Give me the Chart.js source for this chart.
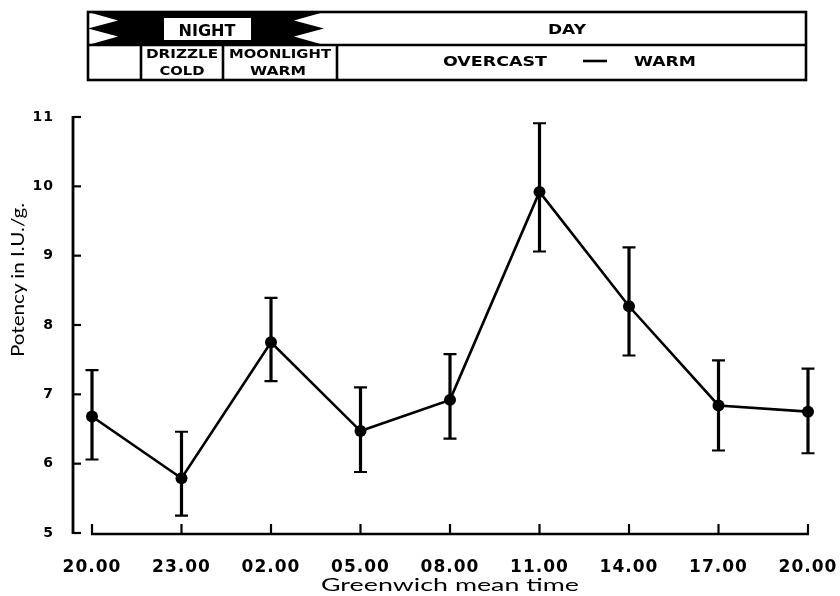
<!DOCTYPE html>
<html>
<head>
<meta charset="utf-8">
<script src="https://cdn.jsdelivr.net/npm/chart.js@4"></script>
<style>
html,body{margin:0;padding:0;background:#fff;}
#wrap{position:relative;width:840px;height:596px;overflow:hidden;}
#c{position:absolute;left:0;top:0;}
#banner{position:absolute;left:0;top:0;pointer-events:none;}
#banner text{font-family:"DejaVu Sans",Lato,sans-serif;font-weight:bold;fill:#000;}
#banner text.plain{font-family:Lato,"DejaVu Sans",sans-serif;font-weight:normal;}
</style>
</head>
<body>
<div id="wrap">
<canvas id="c" width="840" height="596"></canvas>
<svg id="banner" width="840" height="596" viewBox="0 0 840 596">
  <polygon points="88,12 324,12 294,20.5 324,28.5 294,36.5 324,45 88,45 118,36.5 88,28.5 118,20.5" fill="#000"/>
  <rect x="164" y="18" width="87" height="22" fill="#fff"/>
  <rect x="88" y="12" width="718" height="68" fill="none" stroke="#000" stroke-width="2.6"/>
  <line x1="88" y1="45" x2="806" y2="45" stroke="#000" stroke-width="2.6"/>
  <line x1="141" y1="45" x2="141" y2="80" stroke="#000" stroke-width="2.6"/>
  <line x1="223" y1="45" x2="223" y2="80" stroke="#000" stroke-width="2.6"/>
  <line x1="337" y1="45" x2="337" y2="80" stroke="#000" stroke-width="2.6"/>
  <text x="207" y="35.5" font-size="15" text-anchor="middle" textLength="57" lengthAdjust="spacingAndGlyphs">NIGHT</text>
  <text x="567" y="34" font-size="14" text-anchor="middle" textLength="38" lengthAdjust="spacingAndGlyphs">DAY</text>
  <text x="182" y="58" font-size="13" text-anchor="middle" textLength="72" lengthAdjust="spacingAndGlyphs">DRIZZLE</text>
  <text x="182" y="75" font-size="13" text-anchor="middle" textLength="45" lengthAdjust="spacingAndGlyphs">COLD</text>
  <text x="280" y="58" font-size="13" text-anchor="middle" textLength="102" lengthAdjust="spacingAndGlyphs">MOONLIGHT</text>
  <text x="278" y="75" font-size="13" text-anchor="middle" textLength="56" lengthAdjust="spacingAndGlyphs">WARM</text>
  <text x="495" y="66" font-size="14" text-anchor="middle" textLength="104" lengthAdjust="spacingAndGlyphs">OVERCAST</text>
  <line x1="583" y1="61" x2="607" y2="61" stroke="#000" stroke-width="2.6"/>
  <text x="665" y="66" font-size="14" text-anchor="middle" textLength="62" lengthAdjust="spacingAndGlyphs">WARM</text>
  <text class="plain" x="0" y="0" font-size="18" text-anchor="middle" textLength="154" lengthAdjust="spacingAndGlyphs" transform="translate(24,280) rotate(-90)">Potency in I.U./g.</text>
  <text class="plain" x="450" y="591" font-size="18" text-anchor="middle" textLength="258" lengthAdjust="spacingAndGlyphs">Greenwich mean time</text>
</svg>
</div>
<script>
const times = ['20.00','23.00','02.00','05.00','08.00','11.00','14.00','17.00','20.00'];
const potency = [6.68, 5.79, 7.75, 6.47, 6.92, 9.92, 8.27, 6.84, 6.75];
const upper = [7.35, 6.46, 8.39, 7.10, 7.58, 10.91, 9.12, 7.49, 7.37];
const lower = [6.06, 5.25, 7.19, 5.88, 6.36, 9.06, 7.56, 6.19, 6.15];
const yTicks = [5, 6, 7, 8, 9, 10, 11];

const AXIS_GAP = 19;

const spacingPlugin = {
  id: 'letterSpacing',
  beforeDraw(chart) { chart.ctx.letterSpacing = '1px'; },
  afterDraw(chart) { chart.ctx.letterSpacing = '0px'; }
};

const axesPlugin = {
  id: 'customAxes',
  beforeDatasetsDraw(chart) {
    const ctx = chart.ctx;
    const xs = chart.scales.x, ys = chart.scales.y;
    const ax = chart.chartArea.left - AXIS_GAP;
    const yTop = ys.getPixelForValue(yTicks[yTicks.length - 1]);
    const yBot = ys.getPixelForValue(yTicks[0]);
    ctx.save();
    ctx.strokeStyle = '#000';
    ctx.lineCap = 'butt';
    // y axis
    ctx.lineWidth = 2.8;
    ctx.beginPath();
    ctx.moveTo(ax, yTop - 1);
    ctx.lineTo(ax, yBot + 1);
    ctx.stroke();
    ctx.lineWidth = 2.2;
    yTicks.forEach(v => {
      const py = ys.getPixelForValue(v);
      ctx.beginPath();
      ctx.moveTo(ax, py);
      ctx.lineTo(ax + 8, py);
      ctx.stroke();
    });
    // x axis
    const x0 = xs.getPixelForValue(0), x1 = xs.getPixelForValue(times.length - 1);
    ctx.lineWidth = 2.6;
    ctx.beginPath();
    ctx.moveTo(x0 - 1, yBot + 1);
    ctx.lineTo(x1 + 1, yBot + 1);
    ctx.stroke();
    ctx.lineWidth = 2.2;
    times.forEach((t, i) => {
      const px = xs.getPixelForValue(i);
      ctx.beginPath();
      ctx.moveTo(px, yBot + 1);
      ctx.lineTo(px, yBot - 9);
      ctx.stroke();
    });
    // error bars
    potency.forEach((v, i) => {
      const px = xs.getPixelForValue(i);
      const pt = ys.getPixelForValue(upper[i]);
      const pb = ys.getPixelForValue(lower[i]);
      ctx.lineWidth = 3.2;
      ctx.beginPath();
      ctx.moveTo(px, pt);
      ctx.lineTo(px, pb);
      ctx.stroke();
      ctx.lineWidth = 2.2;
      ctx.beginPath();
      ctx.moveTo(px - 6.5, pt);
      ctx.lineTo(px + 6.5, pt);
      ctx.moveTo(px - 6.5, pb);
      ctx.lineTo(px + 6.5, pb);
      ctx.stroke();
    });
    ctx.restore();
  }
};

new Chart(document.getElementById('c'), {
  type: 'line',
  data: {
    labels: times,
    datasets: [{
      data: potency,
      borderColor: '#000',
      backgroundColor: '#000',
      borderWidth: 2.6,
      pointRadius: 6,
      pointBackgroundColor: '#000',
      pointBorderWidth: 0,
      tension: 0,
      clip: false
    }]
  },
  options: {
    responsive: false,
    animation: false,
    events: [],
    layout: { padding: { left: 33, right: 32, top: 117, bottom: 16 } },
    plugins: { legend: { display: false }, tooltip: { enabled: false } },
    scales: {
      x: {
        type: 'category',
        offset: false,
        afterFit: (scale) => { scale.height = 47; },
        grid: { display: false, drawTicks: true, tickLength: 22 },
        border: { display: false },
        ticks: { padding: 2.5, color: '#000', maxRotation: 0, autoSkip: false,
                 font: { family: 'DejaVu Sans', size: 17, weight: 'bold' } }
      },
      y: {
        min: 5, max: 11,
        afterFit: (scale) => { scale.width = 59; },
        afterBuildTicks: (scale) => { scale.ticks = yTicks.map(v => ({ value: v })); },
        grid: { display: false, drawTicks: true, tickLength: 36 },
        border: { display: false },
        ticks: { padding: 2, color: '#000',
                 font: { family: 'DejaVu Sans', size: 14, weight: 'bold' } }
      }
    }
  },
  plugins: [spacingPlugin, axesPlugin]
});
</script>
</body>
</html>
